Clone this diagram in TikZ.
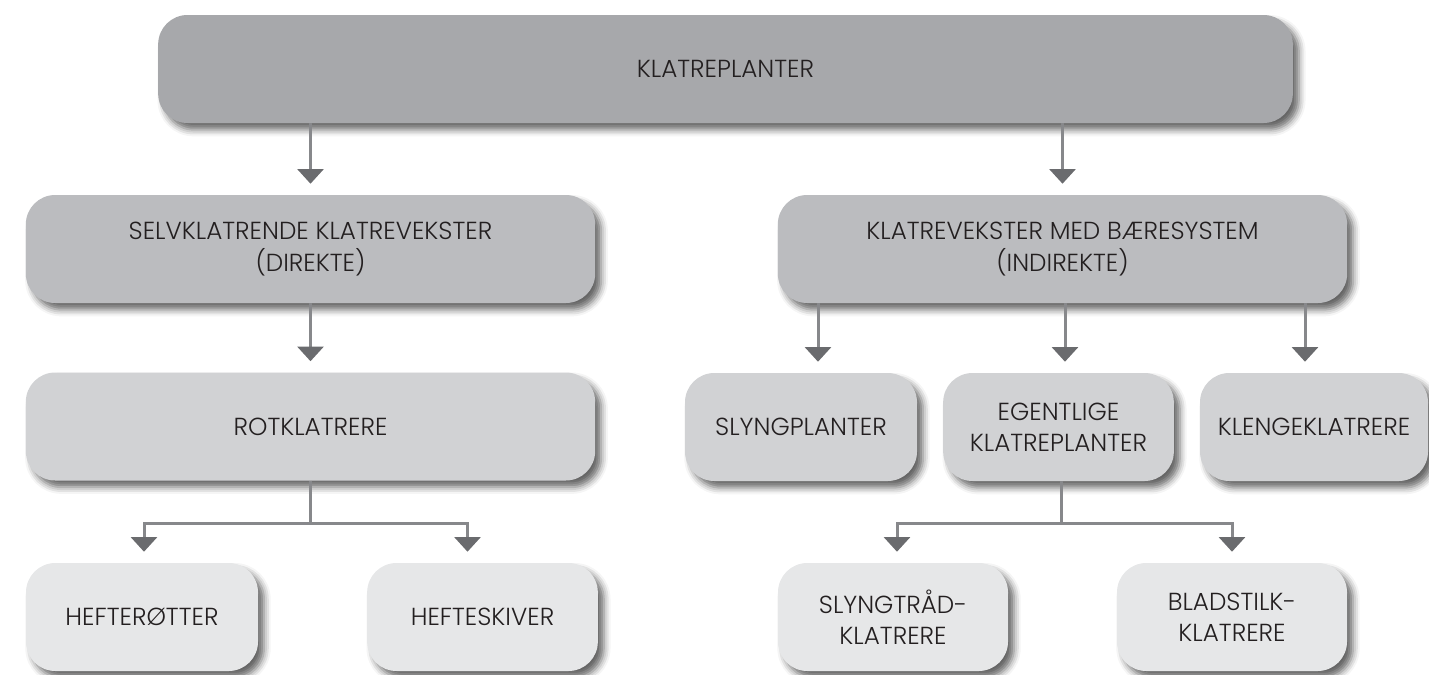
\documentclass[tikz,border=0pt]{standalone}
\usepackage{fontspec}
\setmainfont{Poppins}[UprightFont={* Light}]
\usetikzlibrary{shadows.blur,arrows.meta,calc}
\definecolor{c1}{HTML}{A7A8AB}
\definecolor{c2}{HTML}{BBBCBF}
\definecolor{c3}{HTML}{D1D2D4}
\definecolor{c4}{HTML}{E6E7E8}
\definecolor{txt}{HTML}{231F20}
\definecolor{linec}{HTML}{87888B}
\definecolor{tipc}{HTML}{6A6B6E}
\tikzset{
  box/.style={rounded corners=22pt, minimum height=81pt, align=center,
    text=txt, inner sep=0pt, font=\fontsize{18.5}{23.5}\selectfont,
    blur shadow={shadow xshift=4.5pt, shadow yshift=-5pt,
      shadow blur radius=5pt, shadow opacity=60}},
  conn/.style={draw=linec, line width=2.25pt},
  arr/.style={conn, -{Triangle[width=19.5pt,length=11pt,color=tipc]}, shorten >=8.25pt},
}
\begin{document}
\begin{tikzpicture}[x=0.75pt,y=-0.75pt]
\useasboundingbox (0,0) rectangle (1429,675);
% boxes, top to bottom
\node[box, fill=c1, minimum width=851pt] (top) at (725.5,69) {KLATREPLANTER};
\node[box, fill=c2, minimum width=427pt] (selv) at (310.5,249) {SELVKLATRENDE KLATREVEKSTER\\(DIREKTE)};
\node[box, fill=c2, minimum width=427pt] (baere) at (1062.5,249) {KLATREVEKSTER MED BÆRESYSTEM\\(INDIREKTE)};
\node[box, fill=c3, minimum width=427pt] (rot) at (310.5,426.5) {ROTKLATRERE};
\node[box, fill=c3, minimum width=174pt] (slyng) at (801,427) {SLYNGPLANTER};
\node[box, fill=c3, minimum width=173pt] (egent) at (1058.5,427) {EGENTLIGE\\KLATREPLANTER};
\node[box, fill=c3, minimum width=171pt] (kleng) at (1314,427) {KLENGEKLATRERE};
\node[box, fill=c4, minimum width=174pt] (hefr) at (142,617) {HEFTERØTTER};
\node[box, fill=c4, minimum width=173pt] (hefs) at (482.5,617) {HEFTESKIVER};
\node[box, fill=c4, minimum width=172.5pt] (trad) at (893,617) {SLYNGTRÅD-\\KLATRERE};
\node[box, fill=c4, minimum width=172.5pt] (blad) at (1232,617) {BLADSTILK-\\KLATRERE};
% arrow targets
\coordinate (a1) at ($(slyng.north)+(17,0)$);
\coordinate (a2) at ($(egent.north)+(6.5,0)$);
\coordinate (a3) at ($(kleng.north)+(-9,0)$);
\coordinate (t1) at ($(hefr.north)+(2,0)$);
\coordinate (t2) at ($(hefs.north)+(-15,0)$);
\coordinate (t3) at ($(trad.north)+(4,0)$);
\coordinate (t4) at (blad.north);
\coordinate (jl) at ($(rot.south)+(0,43)$);
\coordinate (jr) at ($(egent.south)+(2.5,42)$);
% connectors
\draw[arr] (top.south -| selv.north) -- (selv.north);
\draw[arr] (top.south -| baere.north) -- (baere.north);
\draw[arr] (selv.south) -- (rot.north);
\draw[arr] (a1 |- baere.south) -- (a1);
\draw[arr] (a2 |- baere.south) -- (a2);
\draw[arr] (a3 |- baere.south) -- (a3);
\draw[conn] (rot.south) -- (jl);
\draw[arr] (jl) -| (t1);
\draw[arr] (jl) -| (t2);
\draw[conn] (jr |- egent.south) -- (jr);
\draw[arr] (jr) -| (t3);
\draw[arr] (jr) -| (t4);
\end{tikzpicture}
\end{document}
